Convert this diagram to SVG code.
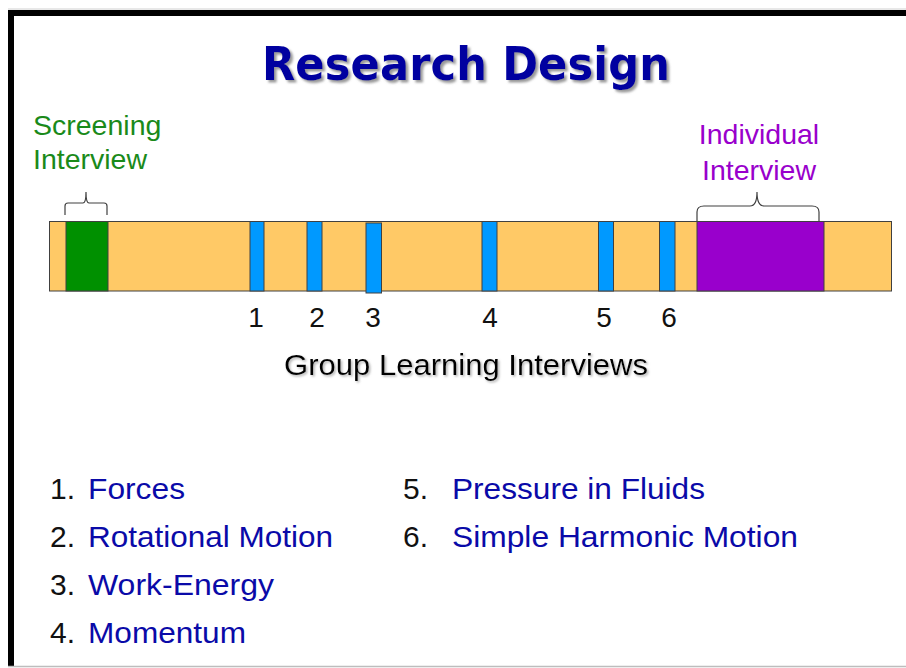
<svg xmlns="http://www.w3.org/2000/svg" width="906" height="668" viewBox="0 0 906 668">
  <defs>
    <filter id="sh" x="-10%" y="-30%" width="130%" height="170%">
      <feDropShadow dx="2.5" dy="2.5" stdDeviation="1.2" flood-color="#808080" flood-opacity="0.8"/>
    </filter>
    <filter id="sh2" x="-10%" y="-30%" width="130%" height="170%">
      <feDropShadow dx="1.5" dy="1.5" stdDeviation="1" flood-color="#909090" flood-opacity="0.7"/>
    </filter>
  </defs>
  <style>
    .sans { font-family: "Liberation Sans", Arial, sans-serif; }
    .seg { stroke: #404040; stroke-width: 1; }
    .brace { fill: none; stroke: #404040; stroke-width: 1.2; }
    .num { font-size: 28px; fill: #111; text-anchor: middle; }
    .li { font-size: 30px; }
    .ln { fill: #111; }
    .lt { fill: #0a0aa8; }
  </style>
  <rect x="0" y="0" width="906" height="668" fill="#ffffff"/>
  <!-- frame -->
  <line x1="8" y1="9" x2="906" y2="9" stroke="#d0d0d0" stroke-width="1"/>
  <rect x="8" y="10" width="898" height="6" fill="#000"/>
  <rect x="8" y="10" width="6" height="656" fill="#000"/>
  <line x1="8" y1="666.5" x2="906" y2="666.5" stroke="#bdbdbd" stroke-width="1.5"/>

  <g id="title">
    <text x="466" y="80" text-anchor="middle" font-family="DejaVu Sans, Verdana, sans-serif" font-weight="bold" font-size="46" fill="#0000a0" filter="url(#sh)" textLength="408" lengthAdjust="spacingAndGlyphs">Research Design</text>
  </g>

  <g id="timeline">
    <rect class="seg" x="49.5" y="221.5" width="842" height="69.5" fill="#ffc966"/>
    <rect class="seg" x="66" y="221.5" width="42" height="69.5" fill="#009000"/>
    <rect class="seg" x="250" y="221.5" width="14" height="69.5" fill="#0099ff"/>
    <rect class="seg" x="307" y="221.5" width="15" height="69.5" fill="#0099ff"/>
    <rect class="seg" x="366" y="223" width="15.5" height="70" fill="#0099ff"/>
    <rect class="seg" x="482" y="221.5" width="15" height="69.5" fill="#0099ff"/>
    <rect class="seg" x="598.5" y="221.5" width="15" height="69.5" fill="#0099ff"/>
    <rect class="seg" x="659.5" y="221.5" width="15.5" height="69.5" fill="#0099ff"/>
    <rect class="seg" x="697" y="221.5" width="127" height="69.5" fill="#9900cc"/>
  </g>

  <g id="screening">
    <text class="sans" x="33" y="135" font-size="28.5" fill="#1a8a1a">Screening</text>
    <text class="sans" x="33" y="169" font-size="28.5" fill="#1a8a1a">Interview</text>
    <path class="brace" d="M65,215 V206 Q65,203 68,203 H83 Q86,203 86,192 Q86,203 89,203 H104 Q107,203 107,206 V215"/>
  </g>

  <g id="individual">
    <text class="sans" x="759" y="144" font-size="28.5" fill="#9900cc" text-anchor="middle">Individual</text>
    <text class="sans" x="759" y="180" font-size="28.5" fill="#9900cc" text-anchor="middle">Interview</text>
    <path class="brace" d="M697,222 V212 Q697,206 704,206 H750 Q757,206 757,192 Q757,206 764,206 H812 Q819,206 819,212 V222"/>
  </g>

  <g id="numbers" class="sans">
    <text class="num" x="256" y="327">1</text>
    <text class="num" x="317" y="327">2</text>
    <text class="num" x="373" y="327">3</text>
    <text class="num" x="490" y="327">4</text>
    <text class="num" x="604" y="327">5</text>
    <text class="num" x="669" y="327">6</text>
  </g>

  <g id="group-label">
    <text class="sans" x="466" y="375" text-anchor="middle" font-size="29" fill="#000" filter="url(#sh2)" textLength="364" lengthAdjust="spacingAndGlyphs">Group Learning Interviews</text>
  </g>

  <g id="legend" class="sans li">
    <text class="ln" x="50" y="499">1.</text>
    <text class="lt" x="88" y="499" textLength="97" lengthAdjust="spacingAndGlyphs">Forces</text>
    <text class="ln" x="50" y="547">2.</text>
    <text class="lt" x="88" y="547" textLength="245" lengthAdjust="spacingAndGlyphs">Rotational Motion</text>
    <text class="ln" x="50" y="595">3.</text>
    <text class="lt" x="88" y="595" textLength="186" lengthAdjust="spacingAndGlyphs">Work-Energy</text>
    <text class="ln" x="50" y="643">4.</text>
    <text class="lt" x="88" y="643" textLength="158" lengthAdjust="spacingAndGlyphs">Momentum</text>
    <text class="ln" x="403" y="499">5.</text>
    <text class="lt" x="452" y="499" textLength="253" lengthAdjust="spacingAndGlyphs">Pressure in Fluids</text>
    <text class="ln" x="403" y="547">6.</text>
    <text class="lt" x="452" y="547" textLength="346" lengthAdjust="spacingAndGlyphs">Simple Harmonic Motion</text>
  </g>
</svg>
